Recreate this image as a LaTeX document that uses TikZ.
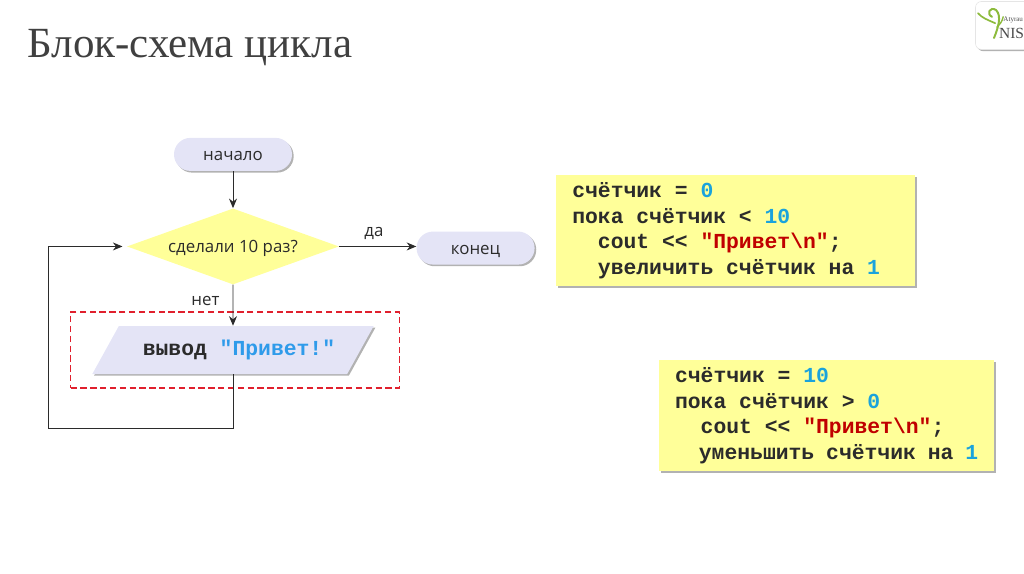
\documentclass[tikz,border=0pt]{standalone}
\usepackage{fontspec}
\setmainfont{Open Sans}
\newfontfamily\titlefont{Liberation Serif}
\newfontfamily\codefont{Liberation Mono}
\usepackage{tikz}
\usetikzlibrary{arrows.meta,positioning,shapes.geometric,shadows}
\usepackage{xcolor}

\definecolor{lavbox}{HTML}{E4E4F6}
\definecolor{yelbox}{HTML}{FFFF99}
\definecolor{numcol}{HTML}{1AA3DC}
\definecolor{strcol}{HTML}{C00000}
\definecolor{msgcol}{HTML}{2F9BEA}
\definecolor{inkcol}{HTML}{2B2B2B}
\definecolor{leafcol}{HTML}{8DBB3C}
\definecolor{framecol}{HTML}{E0202D}
\newcommand{\codenum}[1]{\textcolor{numcol}{#1}}
\newcommand{\codestr}[1]{\textcolor{strcol}{#1}}

\begin{document}
\begin{tikzpicture}[
  soft/.style={drop shadow={shadow xshift=1.2pt, shadow yshift=-1.2pt,
               opacity=0.3, fill=black}},
  term/.style={rectangle, rounded corners=0.41cm, fill=lavbox, soft,
               minimum width=2.95cm, minimum height=0.825cm, inner sep=0pt,
               text height=11pt, text depth=1.7pt,
               text=inkcol, font=\fontsize{12}{14}\selectfont},
  cond/.style={diamond, aspect=2.79, fill=yelbox, minimum width=5.3cm,
               minimum height=1.9cm, inner sep=0pt, text=inkcol,
               text height=11pt, text depth=1.7pt,
               font=\fontsize{12}{14}\selectfont},
  io/.style={trapezium, trapezium left angle=40, trapezium right angle=140,
             trapezium stretches=true, fill=lavbox, soft,
             minimum width=7.05cm, minimum height=1.2cm, inner sep=0pt,
             text=inkcol, font=\codefont\bfseries\fontsize{15.2}{18.2}\selectfont},
  code/.style={rectangle, fill=yelbox, soft, anchor=north west, align=flush left,
               inner xsep=0.4cm, inner ysep=0pt, text=inkcol,
               font=\codefont\bfseries\fontsize{15.2}{18.2}\selectfont},
  lab/.style={text=inkcol, font=\fontsize{12}{14}\selectfont},
  arr/.style={-{Stealth[length=2.4mm,width=2mm]}, line width=0.7pt, draw=inkcol}
]
  \useasboundingbox (0,0) rectangle (25.6,-14.35);

  % title
  \node[anchor=west, inner sep=0pt, text=black!75, font=\titlefont\fontsize{30.6}{36}\selectfont]
    (title) at (0.68,-1.2) {Блок-схема цикла};

  % logo
  \node[rectangle, rounded corners=0.15cm, fill=white, soft, draw=black!10,
        minimum width=1.4cm, minimum height=1.2cm, anchor=north west] (logo) at (24.38,-0.03) {};
  \draw[leafcol, line width=1.4pt, line cap=round]
    (24.85,-0.95) .. controls (24.95,-0.7) and (25.05,-0.4) .. (24.9,-0.25)
    .. controls (24.75,-0.15) and (24.65,-0.35) .. (24.8,-0.42);
  \draw[leafcol, line width=1.2pt, line cap=round]
    (24.45,-0.33) .. controls (24.55,-0.45) and (24.7,-0.5) .. (24.88,-0.58);
  \draw[leafcol, line width=1pt, line cap=round]
    (24.92,-0.68) .. controls (25,-0.6) and (25.05,-0.55) .. (25.08,-0.42);
  \node[anchor=west, inner sep=0pt, text=black!70, font=\titlefont\fontsize{5}{6}\selectfont]
    (logoa) at (25.08,-0.5) {Atyrau};
  \node[anchor=west, inner sep=0pt, text=black!70, font=\titlefont\fontsize{11}{12}\selectfont]
    (logob) at (24.97,-0.83) {NIS};

  % flowchart
  \node[term] (start) at (5.825,-3.86) {начало};
  \node[cond] (check) [below=0.925cm of start] {сделали 10 раз?};
  \node[term] (stop) [right=1.925cm of check, yshift=-0.04cm] {конец};
  \node[io]   (out) [below=1.025cm of check]
    {\hspace*{0.3cm}вывод \textcolor{msgcol}{"Привет!"}};

  % red frame
  \node[rectangle, draw=framecol, line width=1.2pt, dash pattern=on 4.5pt off 2.5pt,
        minimum width=8.225cm, minimum height=1.9cm, inner sep=0pt] (frame) at (5.875,-8.75) {};

  \coordinate (turn) at (1.2,-10.7);

  % arrows
  \draw[arr] (start) -- (check);
  \draw[arr] (check) -- node[above, lab, pos=0.45, yshift=1pt] (yes) {да} (check -| stop.west);
  \draw[arr] (check) -- node[left, lab, pos=0.4, xshift=-6pt] (no) {нет} (out);
  \draw[arr, shorten >=3pt] (out.south) |- (turn) |- (check.west);

  % code boxes
  \node[code, minimum width=8.98cm, minimum height=2.78cm, text width=8.18cm] (box1) at (13.9,-4.37) {%
    счётчик = \codenum{0}\\
    пока счётчик < \codenum{10}\\
    ~~cout << \codestr{"Привет\textbackslash n"};\\
    ~~увеличить счётчик на \codenum{1}};
  \node[code, minimum width=8.38cm, minimum height=2.78cm, text width=7.58cm] (box2) at (16.47,-9) {%
    счётчик = \codenum{10}\\
    пока счётчик > \codenum{0}\\
    ~~cout << \codestr{"Привет\textbackslash n"};\\
    ~~уменьшить счётчик на \codenum{1}};
\end{tikzpicture}
\end{document}
